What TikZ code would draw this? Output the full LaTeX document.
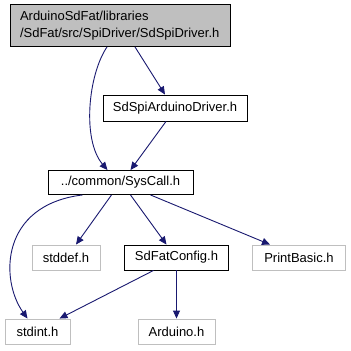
\documentclass[tikz,border=0pt]{standalone}
\usepackage{fontspec}
\setmainfont{Liberation Sans}
\usetikzlibrary{arrows.meta,calc}

\definecolor{edgeblue}{HTML}{191970}
\definecolor{extgray}{HTML}{BFBFBF}

\tikzset{
  file/.style={draw=black, line width=0.9pt, fill=white, inner sep=0pt,
    minimum height=25pt, font=\fontsize{13}{16.5}\selectfont},
  extfile/.style={file, draw=extgray},
  dep/.style={draw=edgeblue, line width=0.9pt,
    -{Triangle[length=8pt,width=7pt,fill=edgeblue]}},
}

\begin{document}
\begin{tikzpicture}[x=1pt,y=-1pt]
  \useasboundingbox[fill=white] (0,0) rectangle (351,351);

  % current header and the files it pulls in
  \node[file, fill=extgray, minimum width=220pt, minimum height=42pt,
        align=left, text width=200pt] (top) at (120,25.5)
        {ArduinoSdFat/libraries\\/SdFat/src/SpiDriver/SdSpiDriver.h};
  \node[file, minimum width=144pt, minimum height=26pt] (sa) at (175,108) {SdSpiArduinoDriver.h};
  \node[file, minimum width=145pt, minimum height=24pt] (sc) at (120.5,182.5) {../common/SysCall.h};
  \node[extfile, minimum width=68pt] (sdef) at (66,257.5) {stddef.h};
  \node[file, minimum width=104pt] (sfc) at (176.5,257.5) {SdFatConfig.h};
  \node[extfile, minimum width=93pt] (pb) at (299,257.5) {PrintBasic.h};
  \node[extfile, minimum width=65pt] (sint) at (37.5,331.5) {stdint.h};
  \node[extfile, minimum width=77pt] (ard) at (176.5,331.5) {Arduino.h};

  % include edges
  \draw[dep] ($(top.south)+(-13,0)$) .. controls (88,75) and (82,140) .. ($(sc.north)+(-13,0)$);
  \draw[dep] ($(top.south)+(15,0)$) -- ($(sa.north)+(-10,0)$);
  \draw[dep] ($(sa.south)+(-9,0)$) -- ($(sc.north)+(10,0)$);
  \draw[dep] ($(sc.south)+(-38,0)$) .. controls (0,205) and (0,280) .. ($(sint.north)+(-10,0)$);
  \draw[dep] ($(sc.south)+(-9,0)$) -- ($(sdef.north)+(10,0)$);
  \draw[dep] ($(sc.south)+(10,0)$) -- ($(sfc.north)+(-10,0)$);
  \draw[dep] ($(sc.south)+(30,0)$) -- ($(pb.north)+(-29,0)$);
  \draw[dep] ($(sfc.south)+(-23,0)$) -- ($(sint.north)+(22,0)$);
  \draw[dep] (sfc.south) -- (ard.north);
\end{tikzpicture}
\end{document}
